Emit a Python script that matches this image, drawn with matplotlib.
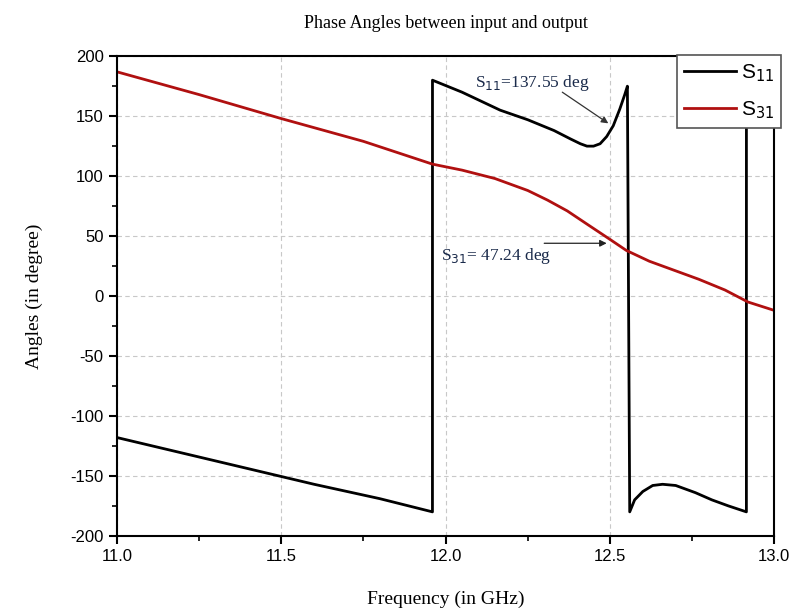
import numpy as np
import matplotlib.pyplot as plt

plt.rcParams['axes.unicode_minus'] = False

# S11 phase (deg) vs frequency (GHz); wraps at +/-180
f_s11 = [11.0, 11.2, 11.4, 11.6, 11.8, 11.96, 11.9601, 12.05, 12.166, 12.25, 12.33, 12.38,
         12.41, 12.43, 12.45, 12.47, 12.49, 12.51, 12.53, 12.545, 12.553, 12.5601,
         12.575, 12.6, 12.63, 12.66, 12.7, 12.76, 12.81, 12.86, 12.915, 12.9151]
p_s11 = [-118, -131, -144, -157, -169, -180, 180, 170, 155, 147, 138, 131,
         127, 125, 125, 127, 133, 142, 156, 168, 175, -180,
         -170, -163, -158, -157, -158, -164, -170, -175, -180, 180]

# S31 phase (deg) vs frequency (GHz)
f_s31 = [11.0, 11.25, 11.5, 11.75, 11.96, 12.05, 12.15, 12.25, 12.31, 12.37, 12.43, 12.5,
         12.55, 12.62, 12.7, 12.77, 12.85, 12.92, 13.0]
p_s31 = [187, 168, 148, 129, 110, 105, 98, 88, 80, 71, 60, 47.24,
         38, 29, 21, 14, 5, -5, -12]

serif = ['Liberation Serif', 'DejaVu Serif']
sans = ['Liberation Sans', 'DejaVu Sans']

fig = plt.figure(figsize=(7.95, 6.11), dpi=100)
ax = fig.add_axes([0.147, 0.123, 0.827, 0.785])

ax.plot(f_s11, p_s11, color='black', lw=2.0, label='S$_{11}$')
ax.plot(f_s31, p_s31, color='#b01010', lw=2.0, label='S$_{31}$')

ax.set_xlim(11.0, 13.0)
ax.set_ylim(-200, 200)
ax.set_xticks(np.arange(11.0, 13.01, 0.5))
ax.set_xticks(np.arange(11.0, 13.01, 0.25), minor=True)
ax.set_yticks(np.arange(-200, 201, 50))
ax.set_yticks(np.arange(-200, 201, 25), minor=True)
ax.xaxis.set_major_formatter(plt.FormatStrFormatter('%.1f'))

ax.grid(True, which='major', ls=(0, (4, 3)), color='#c8c8c8', lw=0.8)
ax.tick_params(which='major', direction='out', length=6, width=1.5, labelsize=12)
ax.tick_params(which='minor', direction='out', length=3.5, width=1.2)
for lab in ax.get_xticklabels() + ax.get_yticklabels():
    lab.set_family(sans)
for sp in ax.spines.values():
    sp.set_linewidth(1.5)

ax.set_title('Phase Angles between input and output', family=serif, fontsize=13, pad=20)
ax.set_xlabel('Frequency (in GHz)', family=serif, fontsize=14, labelpad=19)
ax.set_ylabel('Angles (in degree)', family=serif, fontsize=14, labelpad=20)

# value callouts
ax.text(12.09, 178, 'S$_{11}$=137.55 deg', fontsize=12.5, family=serif,
        color='#1a2a4a', ha='left', va='center')
ax.annotate('', xy=(12.495, 144), xytext=(12.355, 170),
            arrowprops=dict(arrowstyle='-|>', color='#333333', lw=0.9,
                            mutation_scale=10, shrinkA=0, shrinkB=0))
ax.text(11.985, 33, 'S$_{31}$= 47.24 deg', fontsize=12.5, family=serif,
        color='#1a2a4a', ha='left', va='center')
ax.annotate('', xy=(12.49, 44), xytext=(12.3, 44),
            arrowprops=dict(arrowstyle='-|>', color='#222222', lw=0.9,
                            mutation_scale=10, shrinkA=0, shrinkB=0))

leg = ax.legend(loc='upper left', bbox_to_anchor=(0.852, 1.003), frameon=True,
                fancybox=False, edgecolor='#555555', framealpha=1.0, borderpad=0.35,
                borderaxespad=0, handlelength=2.5, handletextpad=0.2, labelspacing=0.75,
                prop={'family': sans, 'size': 15})
leg.get_frame().set_linewidth(1.2)

fig.savefig('out.png', dpi=100)
